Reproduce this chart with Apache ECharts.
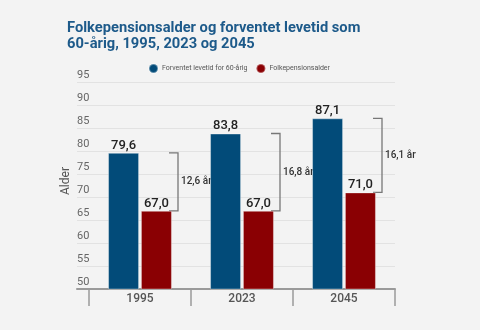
<!DOCTYPE html>
<html>
<head>
<meta charset="utf-8">
<script src="https://cdn.jsdelivr.net/npm/echarts@6/dist/echarts.min.js"></script>
<style>html,body{margin:0;padding:0;background:#f3f3f3}#c{width:480px;height:330px}</style>
</head>
<body>
<div id="c"></div>
<script>
const categories = ['1995', '2023', '2045'];
const levetid = [79.6, 83.8, 87.1];
const pensionsalder = [67.0, 67.0, 71.0];
const yTicks = { min: 50, max: 95, interval: 5 };
const seriesNames = ['Forventet levetid for 60-årig', 'Folkepensionsalder'];
const yAxisName = 'Alder';
const titleText = 'Folkepensionsalder og forventet levetid som\n60-årig, 1995, 2023 og 2045';

const fmt = v => v.toFixed(1).replace('.', ',');
const bracketData = categories.map((c, i) => [i, levetid[i], pensionsalder[i]]);

const chart = echarts.init(document.getElementById('c'), null, { renderer: 'canvas' });
const font = 'Roboto';
chart.setOption({
  backgroundColor: '#f3f3f3',
  animation: false,
  textStyle: { fontFamily: font },
  title: {
    text: titleText, left: 62, top: 15,
    textStyle: { fontFamily: font, fontSize: 14.7, fontWeight: 'bold', color: '#1d5a8a', lineHeight: 16 }
  },
  legend: {
    left: 143, top: 58, icon: 'circle', itemWidth: 9, itemHeight: 9, itemGap: 8,
    textStyle: { fontFamily: font, fontSize: 7, color: '#555', padding: [0, 0, 0, -1] },
    data: seriesNames
  },
  graphic: [
    { type: 'text', x: 66, y: 181, rotation: Math.PI / 2,
      style: { text: yAxisName, fontFamily: font, fontSize: 12, fill: '#555', align: 'center', verticalAlign: 'middle' } }
  ],
  grid: [
    { left: 77, right: 85, top: 82, bottom: 41 },
    { left: 89, right: 85, top: 82, bottom: 41 }
  ],
  xAxis: [
    { gridIndex: 0, type: 'value', min: 0, max: 1, axisLine: { show: true, lineStyle: { color: '#9a9a9a', width: 2 } },
      axisTick: { show: false }, axisLabel: { show: false }, splitLine: { show: false } },
    { gridIndex: 1, type: 'category', data: categories,
      axisLine: { show: false },
      axisTick: { show: true, length: 17, lineStyle: { color: '#9a9a9a', width: 1.5 } },
      axisLabel: { fontFamily: font, fontSize: 12, color: '#555', fontWeight: 500, margin: 4 } }
  ],
  yAxis: [
    { gridIndex: 0, type: 'value', min: yTicks.min, max: yTicks.max, interval: yTicks.interval,
      axisLine: { show: false }, axisTick: { show: false },
      axisLabel: { inside: true, margin: 0, verticalAlign: 'bottom', padding: [0, 0, 1, 0], fontFamily: font, fontSize: 11, color: '#666' },
      splitLine: { lineStyle: { color: '#e2e2e2', width: 1 } } },
    { gridIndex: 1, type: 'value', min: yTicks.min, max: yTicks.max, interval: yTicks.interval, show: false }
  ],
  series: [
    { name: seriesNames[0], type: 'bar', xAxisIndex: 1, yAxisIndex: 1, data: levetid,
      barWidth: 31, barGap: '6%',
      itemStyle: { color: '#024b79', borderColor: 'rgba(255,255,255,0.35)', borderWidth: 1 },
      label: { show: true, position: 'top', distance: 1, formatter: p => fmt(p.value),
        fontFamily: font, fontSize: 13, fontWeight: 500, color: '#222' } },
    { name: seriesNames[1], type: 'bar', xAxisIndex: 1, yAxisIndex: 1, data: pensionsalder,
      barWidth: 31,
      itemStyle: { color: '#8a0003', borderColor: 'rgba(255,255,255,0.35)', borderWidth: 1 },
      label: { show: true, position: 'top', distance: 1, formatter: p => fmt(p.value),
        fontFamily: font, fontSize: 13, fontWeight: 500, color: '#222' } },
    { type: 'custom', xAxisIndex: 1, yAxisIndex: 1, data: bracketData, silent: true, clip: false,
      renderItem: function (params, api) {
        const idx = api.value(0), b = api.value(1), r = api.value(2);
        const top = api.coord([idx, b]);
        const bot = api.coord([idx, r]);
        const x0 = top[0] + 29, x1 = top[0] + 38;
        return {
          type: 'group',
          children: [
            { type: 'polyline', shape: { points: [[x0, top[1]], [x1, top[1]], [x1, bot[1]], [x0, bot[1]]] },
              style: { stroke: '#777', lineWidth: 1.3, fill: null } },
            { type: 'text', x: x1 + 3, y: (top[1] + bot[1]) / 2,
              style: { text: fmt(b - r) + ' år', fontFamily: font, fontSize: 10, fontWeight: 500, fill: '#333', verticalAlign: 'middle', align: 'left' } }
          ]
        };
      } }
  ]
});
</script>
</body>
</html>
